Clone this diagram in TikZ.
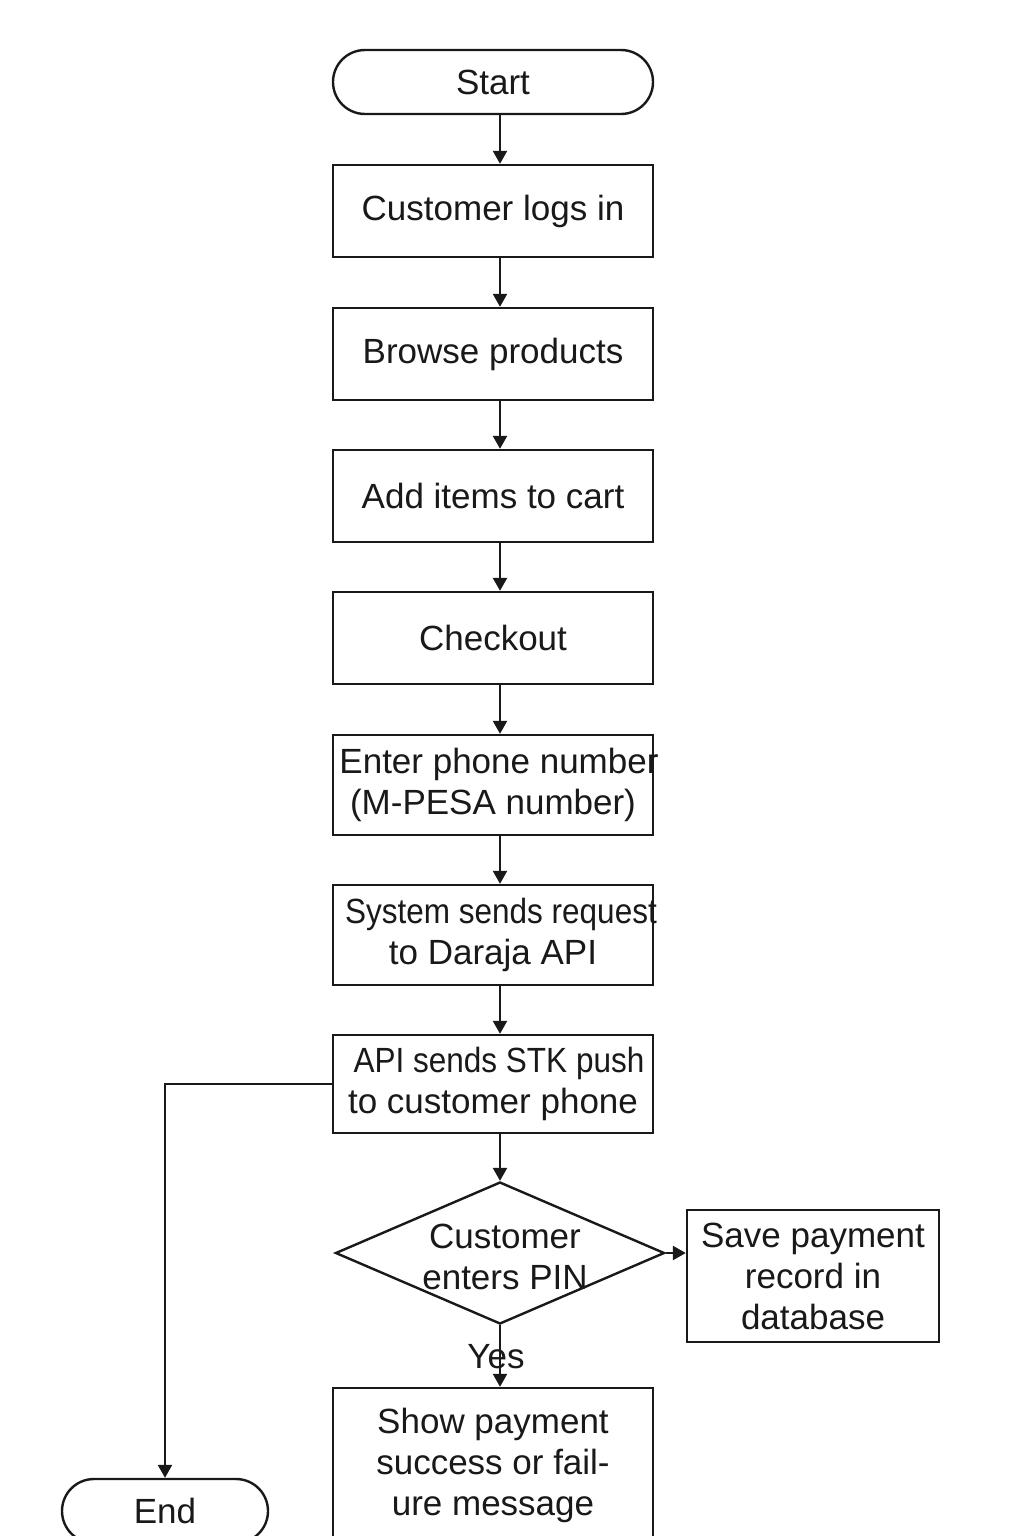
\documentclass[tikz,border=0pt]{standalone}
\usepackage{fontspec}
\setmainfont{Liberation Sans}
\newfontfamily\narrowf[FakeStretch=0.9]{Liberation Sans}
\usetikzlibrary{shapes.geometric,arrows.meta}
\begin{document}
\begin{tikzpicture}[x=0.5pt,y=-0.5pt,
  every node/.style={font=\fontsize{17.5pt}{20.5pt}\selectfont, inner sep=0pt, align=center, text=black!90},
  proc/.style={draw=black!90, line width=1.2pt, minimum width=160pt, minimum height=46pt},
  term/.style={draw=black!90, line width=1.2pt, rounded corners=16pt, minimum height=32pt},
  dec/.style={draw=black!90, line width=1.2pt, diamond, minimum width=164.5pt, minimum height=71pt},
  arr/.style={draw=black!90, line width=1.2pt, -{Triangle[length=6.5pt,width=7pt]}}]
\useasboundingbox (0,0) rectangle (1024,1536);
\fill[white] (0,0) rectangle (1024,1536);
\clip (0,0) rectangle (1024,1536);
\coordinate (sp) at (500,0);
\node[term, minimum width=160pt] (start) at (493,82) {Start};
\node[proc] (b1) at (493,211) {Customer logs in};
\node[proc] (b2) at (493,354) {Browse products};
\node[proc] (b3) at (493,496) {Add items to cart};
\node[proc] (b4) at (493,638) {Checkout};
\node[proc, minimum height=50pt] (b5) at (493,785) {\makebox[0pt]{\hspace{6pt}Enter phone number}\\(M-PESA number)};
\node[proc, minimum height=50pt] (b6) at (493,935) {\makebox[0pt]{\hspace{8pt}\narrowf System sends request}\\to Daraja API};
\node[proc, minimum height=49pt] (b7) at (493,1084) {\makebox[0pt]{\hspace{6pt}\narrowf API sends STK push}\\to customer phone};
\node[dec] (dia) at (500,1253) {};
\node (diat) at (505,1257) {Customer\\enters PIN};
\node[proc, minimum width=126pt, minimum height=66pt] (save) at (813,1276) {Save payment\\record in\\database};
\node[proc, minimum height=77pt] (show) at (493,1465) {Show payment\\success or fail-\\ure message};
\node[term, minimum width=103pt] (en) at (165,1511) {End};
\node (yes) at (496,1357) {Yes};
\draw[arr] (start.south -| sp) -- (b1.north -| sp);
\draw[arr] (b1.south -| sp) -- (b2.north -| sp);
\draw[arr] (b2.south -| sp) -- (b3.north -| sp);
\draw[arr] (b3.south -| sp) -- (b4.north -| sp);
\draw[arr] (b4.south -| sp) -- (b5.north -| sp);
\draw[arr] (b5.south -| sp) -- (b6.north -| sp);
\draw[arr] (b6.south -| sp) -- (b7.north -| sp);
\draw[arr] (b7.south -| sp) -- (dia.north);
\draw[arr] (dia.east) -- (dia.east -| save.west);
\draw[arr] (dia.south) -- (show.north -| sp);
\draw[arr] (b7.west) -- (b7.west -| en.north) -- (en.north);
\end{tikzpicture}
\end{document}
